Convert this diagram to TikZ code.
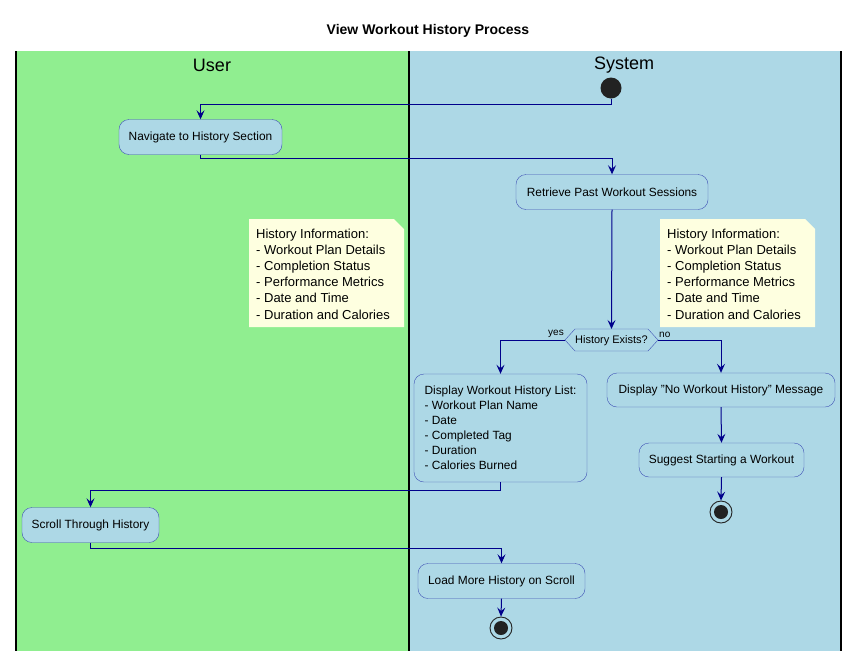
\documentclass[tikz,border=0pt]{standalone}
\usepackage{fontspec}
\setmainfont{Liberation Sans}
\usetikzlibrary{arrows.meta}
\definecolor{lanegreen}{HTML}{90EE90}
\definecolor{laneblue}{HTML}{ADD8E6}
\definecolor{actborder}{HTML}{3F51B5}
\definecolor{flowblue}{HTML}{00008B}
\definecolor{notefill}{HTML}{FEFFE0}
\definecolor{dotcol}{HTML}{222222}
\begin{document}
\begin{tikzpicture}[x=1pt, y=-1pt,
	act/.style={draw=actborder, fill=laneblue, rounded corners=10pt, inner sep=0pt, minimum height=35pt, font=\fontsize{11.9}{15}\selectfont},
	flow/.style={draw=flowblue, line width=1pt, -{Stealth[length=9pt, width=8pt, inset=3.5pt]}},
	notetext/.style={align=left, inner sep=0pt, font=\fontsize{13}{16.2}\selectfont},
	lane/.style={line width=1.3pt},
	startdot/.style={circle, fill=dotcol, inner sep=0pt, minimum size=21pt},
	enddot/.style={circle, draw=dotcol, line width=0.9pt, inner sep=0pt, minimum size=22pt}]
	\useasboundingbox (0,0) rectangle (857,662);
	\def\ytop{51}
	\def\ybot{651}
	\node [font=\bfseries\fontsize{14}{16}\selectfont] (title) at (428,31) {View Workout History Process};
	\fill [lanegreen] (16,\ytop) rectangle (409,\ybot);
	\fill [laneblue] (409,\ytop) rectangle (841,\ybot);
	\draw [lane] (16,\ytop) -- (16,\ybot) (409,\ytop) -- (409,\ybot) (841,\ytop) -- (841,\ybot);
	\node [font=\fontsize{18}{20}\selectfont] (user) at (212,65) {User};
	\node [font=\fontsize{18}{20}\selectfont] (system) at (624,65) {System};
	\node [startdot] (start) at (611,88) {};
	\node [act, minimum width=163pt] (nav) at (200.5,137) {Navigate to History Section};
	\node [act, minimum width=192pt] (retr) at (612,192) {Retrieve Past Workout Sessions};
	\fill [notefill] (249,219) -- (394,219) -- (404,229) -- (404,327) -- (249,327) -- cycle;
	\fill [notefill] (660,219) -- (805,219) -- (815,229) -- (815,327) -- (660,327) -- cycle;
	\node [notetext, anchor=west] (noteL) at (256,274) {History Information:\\- Workout Plan Details\\- Completion Status\\- Performance Metrics\\- Date and Time\\- Duration and Calories};
	\node [notetext, anchor=west] (noteR) at (667,274) {History Information:\\- Workout Plan Details\\- Completion Status\\- Performance Metrics\\- Date and Time\\- Duration and Calories};
	\filldraw [draw=actborder, fill=laneblue] (565,340) -- (575,329) -- (648,329) -- (658,340) -- (648,351) -- (575,351) -- cycle;
	\node [font=\fontsize{11}{13}\selectfont, inner sep=0pt] (dec) at (611.5,341) {History Exists?};
	\coordinate (decW) at (565,340);
	\coordinate (decE) at (658,340);
	\coordinate (decN) at (611.5,329);
	\node [font=\fontsize{10}{12}\selectfont, anchor=south east, inner sep=1pt] (yes) at (565,339) {yes};
	\node [font=\fontsize{10}{12}\selectfont, anchor=south west, inner sep=1pt] (no) at (658,339) {no};
	\node [act, minimum width=173pt, minimum height=108pt, align=left] (list) at (500.5,428) {Display Workout History List:\\- Workout Plan Name\\- Date\\- Completed Tag\\- Duration\\- Calories Burned};
	\node [act, minimum width=228pt, minimum height=34pt] (nohist) at (721,390) {Display "No Workout History" Message};
	\node [act, minimum width=165pt, minimum height=34pt] (suggest) at (721.5,460) {Suggest Starting a Workout};
	\node [enddot] (endA) at (721,512) {};
	\fill [dotcol] (endA) circle (7pt);
	\node [act, minimum width=137pt] (scroll) at (90.5,525) {Scroll Through History};
	\node [act, minimum width=167pt] (load) at (501.5,581) {Load More History on Scroll};
	\node [enddot] (endB) at (501,628) {};
	\fill [dotcol] (endB) circle (7pt);
	\draw [flow] (start.south) -- ++(0,6) -| (nav.north);
	\draw [flow] (nav.south) -- ++(0,4) -| (retr.north);
	\draw [flow] (retr.south) -- (decN);
	\draw [flow] (decW) -| (list.north);
	\draw [flow] (decE) -| (nohist.north);
	\draw [flow] (nohist.south) -- (suggest.north);
	\draw [flow] (suggest.south) -- (endA.north);
	\draw [flow] (list.south) -- ++(0,8) -| (scroll.north);
	\draw [flow] (scroll.south) -- ++(0,6) -| (load.north);
	\draw [flow] (load.south) -- (endB.north);
\end{tikzpicture}
\end{document}
